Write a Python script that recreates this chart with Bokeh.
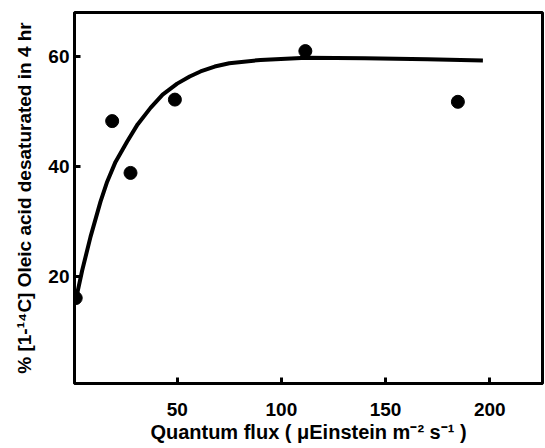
from bokeh.plotting import figure
from bokeh.models import Range1d, FixedTicker
from bokeh.embed import file_html
from bokeh.resources import INLINE

# Measured data points
flux = [1.3, 18.8, 27.6, 48.9, 111.5, 184.7]
desat = [16.1, 48.2, 38.8, 52.1, 60.9, 51.7]

# Fitted curve
curve_x = [1.5, 2.0, 4.4, 8.4, 13.2, 16.4, 20.4, 26.0, 31.0, 37.2, 43.0, 50.0,
           56.0, 61.2, 68.0, 75.0, 90.0, 112.0, 140.0, 170.0, 196.7]
curve_y = [16.0, 16.9, 21.1, 27.2, 33.6, 37.2, 40.8, 44.5, 47.6, 50.6, 53.0, 55.0,
           56.3, 57.2, 58.1, 58.7, 59.3, 59.7, 59.6, 59.4, 59.2]

x_ticks = [50, 100, 150, 200]
y_ticks = [20, 40, 60]

FONT = "Liberation Sans"

p = figure(width=545, height=448, output_backend="svg", toolbar_location=None,
           x_range=Range1d(0.72, 225.3), y_range=Range1d(0.6, 67.9),
           min_border_left=74, min_border_right=3, min_border_top=12,
           min_border_bottom=65)

p.grid.visible = False
p.background_fill_color = "white"
p.border_fill_color = "white"
p.outline_line_color = "black"
p.outline_line_width = 3

p.line(curve_x, curve_y, line_color="black", line_width=4)
p.scatter(flux, desat, size=13, color="black")

for ax in (p.xaxis[0], p.yaxis[0]):
    ax.axis_line_width = 3
    ax.axis_line_color = "black"
    ax.major_tick_in = 6
    ax.major_tick_out = 0
    ax.major_tick_line_width = 3
    ax.minor_tick_line_color = None
    ax.major_label_text_font = FONT
    ax.major_label_text_font_style = "bold"
    ax.major_label_text_font_size = "19px"
    ax.major_label_text_color = "black"
    ax.axis_label_text_font = FONT
    ax.axis_label_text_font_style = "bold"
    ax.axis_label_text_color = "black"

p.xaxis[0].ticker = FixedTicker(ticks=x_ticks)
p.yaxis[0].ticker = FixedTicker(ticks=y_ticks)

p.xaxis[0].axis_label = "Quantum flux ( \u03bcEinstein m\u207b\u00b2 s\u207b\u00b9 )"
p.xaxis[0].axis_label_text_font_size = "20px"
p.xaxis[0].major_label_standoff = 19
p.xaxis[0].axis_label_standoff = 2

p.yaxis[0].axis_label = "% [1-\u00b9\u2074C] Oleic acid desaturated in 4 hr"
p.yaxis[0].axis_label_text_font_size = "19px"
p.yaxis[0].major_label_standoff = 5
p.yaxis[0].axis_label_standoff = 10

open("out.html", "w").write(file_html(p, INLINE))
